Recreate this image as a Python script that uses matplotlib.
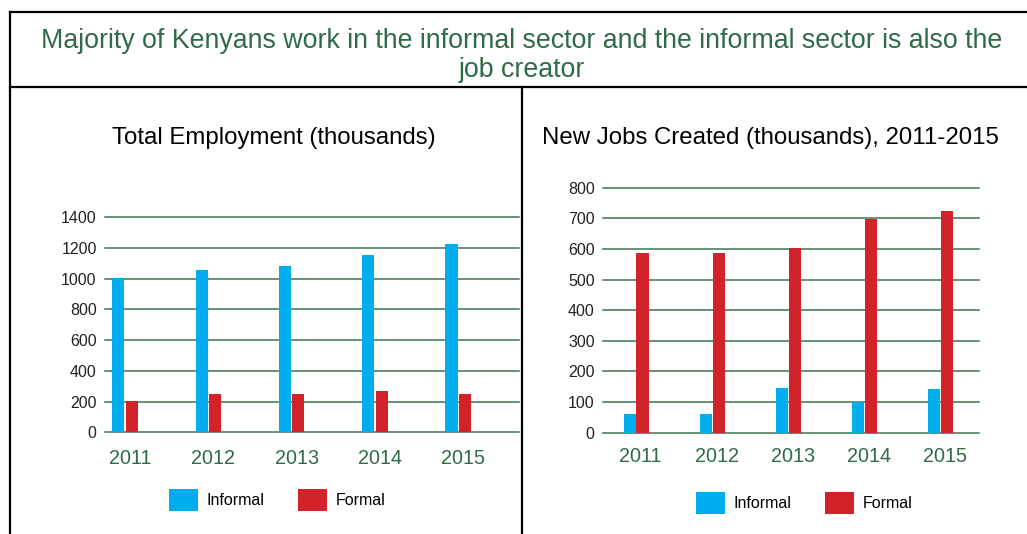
import numpy as np
import matplotlib
matplotlib.use('Agg')
import matplotlib.pyplot as plt
from matplotlib.lines import Line2D

plt.rcParams['font.family'] = ['Liberation Sans', 'DejaVu Sans']

years = ['2011', '2012', '2013', '2014', '2015']
total_informal = [1005, 1057, 1083, 1155, 1226]
total_formal = [202, 250, 250, 269, 250]
new_informal = [61, 61, 146, 100, 143]
new_formal = [587, 587, 603, 699, 724]

blue = '#00aeef'
red = '#d2232a'
green = '#2f6b47'
grid_green = '#3d7355'

fig = plt.figure(figsize=(10.27, 5.34), dpi=100)

# frame lines round the two panels
def frame_line(xs, ys):
    fig.add_artist(Line2D(xs, ys, transform=fig.transFigure, color='black', lw=1.6))

W, H = 1027.0, 534.0
frame_line([10 / W, 1.0], [1 - 12 / H, 1 - 12 / H])
frame_line([10 / W, 1.0], [1 - 87 / H, 1 - 87 / H])
frame_line([10 / W, 10 / W], [1 - 12 / H, 0])
frame_line([522 / W, 522 / W], [1 - 87 / H, 0])

fig.text(522 / W, 1 - 55.5 / H,
         'Majority of Kenyans work in the informal sector and the informal sector is also the\njob creator',
         ha='center', va='center', color=green, fontsize=19.3, linespacing=1.12)


def panel(rect, informal, formal, ymax, ystep, xlim, width, off, title, title_x, leg_xy, label_pad):
    ax = fig.add_axes(rect)
    x = np.arange(len(years))
    b1 = ax.bar(x - off, informal, width, color=blue, label='Informal', zorder=3)
    b2 = ax.bar(x + off, formal, width, color=red, label='Formal', zorder=3)
    ax.set_xlim(*xlim)
    ax.set_ylim(0, ymax)
    ax.set_yticks(np.arange(0, ymax + 1, ystep))
    ax.set_xticks(x + 0.06)
    ax.set_xticklabels(years, color=green, fontsize=14.2)
    ax.tick_params(axis='x', length=0, pad=label_pad)
    ax.tick_params(axis='y', length=0, pad=6, labelsize=11.5, labelcolor='#222222')
    for s in ax.spines.values():
        s.set_visible(False)
    ax.yaxis.grid(True, color=grid_green, lw=1.1, zorder=1)
    for gl in ax.yaxis.get_gridlines():
        gl.set_clip_on(False)
    fig.text(title_x / W, 1 - 138 / H, title, ha='center', va='center', fontsize=17.3)
    fig.legend(handles=[b1, b2], loc='center', bbox_to_anchor=(leg_xy[0] / W, 1 - leg_xy[1] / H),
               ncol=2, frameon=False, fontsize=11.5, handlelength=1.8, handleheight=1.8,
               handletextpad=0.55, columnspacing=2.1)
    return ax


panel([105 / W, (H - 432.3) / H, 414 / W, 215 / H], total_informal, total_formal,
      1400, 200, (-0.24, 4.73), 0.145, 0.08,
      'Total Employment (thousands)', 274, (277, 500), 12)

panel([603 / W, (H - 432.7) / H, 376 / W, 245 / H], new_informal, new_formal,
      800, 100, (-0.434, 4.506), 0.158, 0.085,
      'New Jobs Created (thousands), 2011-2015', 770, (804, 503), 10)

plt.savefig('out.png', dpi=100)
